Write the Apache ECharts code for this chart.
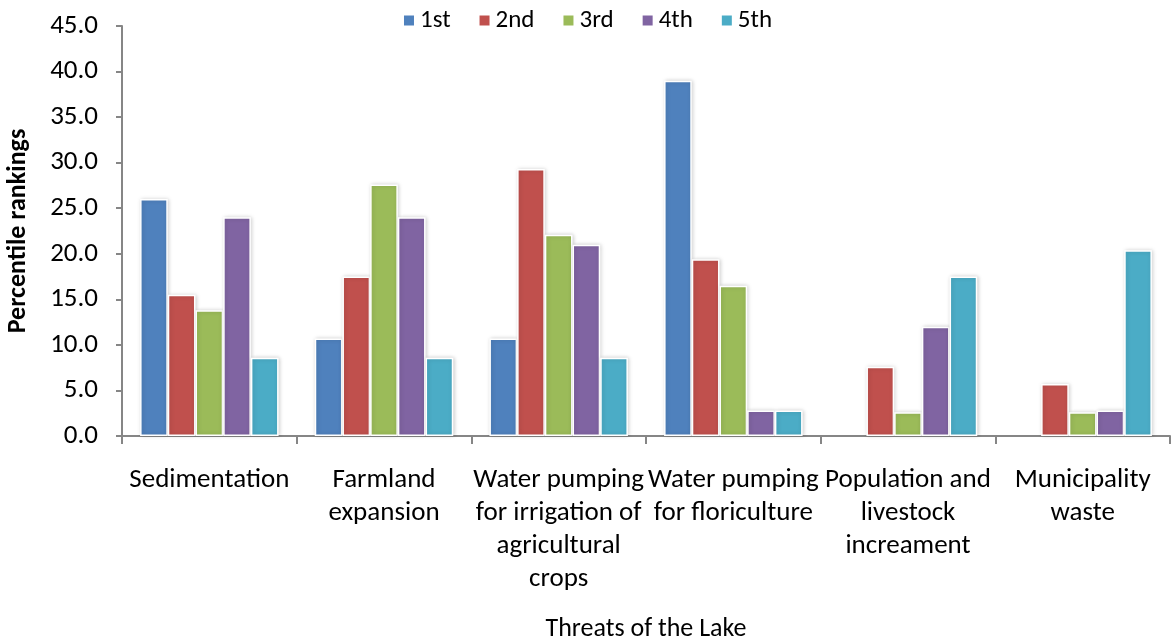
<!DOCTYPE html>
<html>
<head>
<meta charset="utf-8">
<script src="https://cdn.jsdelivr.net/npm/echarts@6/dist/echarts.min.js"></script>
<style>
html,body{margin:0;padding:0;background:#fff;}
#chart{width:1174px;height:641px;}
</style>
</head>
<body>
<div id="chart"></div>
<script>
const categories = [
  "Sedimentation",
  "Farmland\nexpansion",
  "Water pumping\nfor irrigation of\nagricultural\ncrops",
  "Water pumping\nfor floriculture",
  "Population and\nlivestock\nincreament",
  "Municipality\nwaste"
];
const seriesNames = ["1st", "2nd", "3rd", "4th", "5th"];
const first  = [26.0, 10.7, 10.7, 39.0, 0.0, 0.0];
const second = [15.5, 17.5, 29.3, 19.4, 7.6, 5.7];
const third  = [13.8, 27.6, 22.1, 16.5, 2.6, 2.6];
const fourth = [24.0, 24.0, 21.0, 2.8, 12.0, 2.8];
const fifth  = [8.6, 8.6, 8.6, 2.8, 17.5, 20.4];
const colors = ["#4F81BD", "#C0504D", "#9BBB59", "#8064A2", "#4BACC6"];

const values = [first, second, third, fourth, fifth];
const FONT = "Carlito, Lato, 'Liberation Sans', sans-serif";

const chart = echarts.init(document.getElementById('chart'));
chart.setOption({
  animation: false,
  color: colors,
  textStyle: { fontFamily: FONT },
  legend: {
    top: 3,
    left: 'center',
    itemWidth: 12,
    itemHeight: 12,
    itemGap: 27,
    icon: 'rect',
    textStyle: { fontSize: 25, color: '#000', fontFamily: FONT },
    data: seriesNames
  },
  grid: { left: 122, right: 4, top: 26, height: 410, containLabel: false, outerBoundsMode: 'none' },
  xAxis: {
    type: 'category',
    data: categories,
    name: 'Threats of the Lake',
    nameLocation: 'middle',
    nameGap: 180,
    nameTextStyle: { fontSize: 26, color: '#000', fontFamily: FONT },
    axisLine: { lineStyle: { color: '#868686', width: 2 } },
    axisTick: { show: true, length: 8, lineStyle: { color: '#868686', width: 2 } },
    axisLabel: { fontSize: 27, color: '#000', lineHeight: 33, margin: 28, interval: 0, fontFamily: FONT }
  },
  yAxis: {
    type: 'value',
    min: 0, max: 45, interval: 5,
    name: 'Percentile rankings',
    nameLocation: 'middle',
    nameGap: 91,
    nameTextStyle: { fontSize: 26, fontWeight: 'bold', color: '#000', fontFamily: FONT },
    axisLine: { show: true, lineStyle: { color: '#868686', width: 2 } },
    axisTick: { show: true, length: 6, lineStyle: { color: '#868686', width: 2 } },
    splitLine: { show: false },
    axisLabel: { fontSize: 27, color: '#000', margin: 24, fontFamily: FONT,
      formatter: v => v.toFixed(1) }
  },
  series: seriesNames.map((n, i) => ({
    name: n,
    type: 'bar',
    data: values[i].map(v => v === 0
      ? { value: v, itemStyle: { borderWidth: 0, shadowBlur: 0, shadowOffsetX: 0 } }
      : v),
    barGap: '0%',
    barCategoryGap: '20.7%',
    itemStyle: {
      borderColor: '#fff',
      borderWidth: 1.5,
      shadowColor: 'rgba(0,0,0,0.18)',
      shadowBlur: 4,
      shadowOffsetX: 1,
      shadowOffsetY: 0
    }
  }))
});
</script>
</body>
</html>
